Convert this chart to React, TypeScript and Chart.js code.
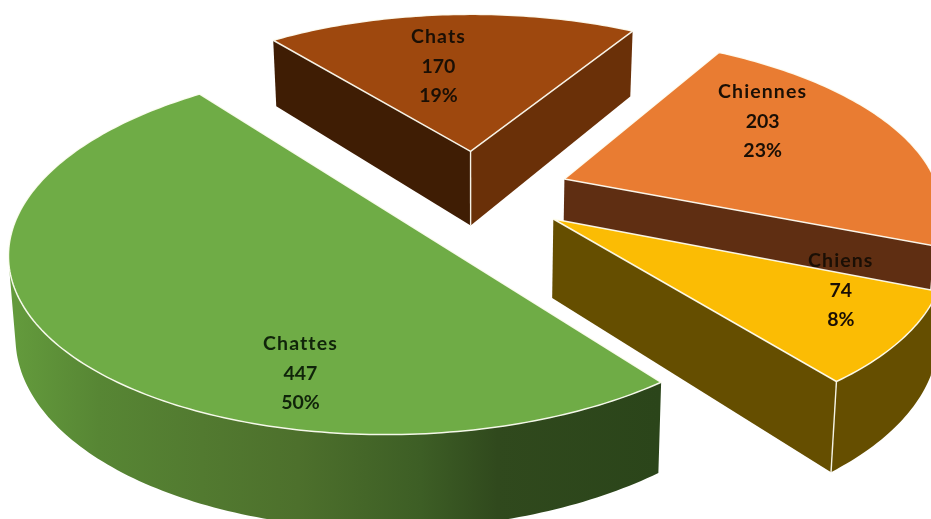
import React, { useEffect, useRef } from "react";
import { Chart, registerables, ArcElement } from "chart.js";

// ---- data
const categories = ["Chats", "Chiennes", "Chiens", "Chattes"];
const counts = [170, 203, 74, 447];
const percents = ["19%", "23%", "8%", "50%"];

// ---- colours
const topColors = ["#9E480E", "#E97C32", "#FBBC04", "#6FAC46"];
// colours of the two cut faces: [face at slice start, face at slice end]
const faceColors = [
  ["#3F1D04", "#6A3008"],
  ["#5F2E12", "#5F2E12"],
  ["#654E00", "#654E00"],
  ["#2B451A", "#2B451A"],
];
const wallGradients = [
  [["0", "#6A3008"], ["1", "#6A3008"]],
  [["0", "#5F2E12"], ["1", "#5F2E12"]],
  [["0", "#654E00"], ["1", "#654E00"]],
  [["0", "#639A3C"], ["0.13", "#578634"], ["0.29", "#527A30"], ["0.44", "#4D702C"], ["0.63", "#3D5E25"], ["0.75", "#30491D"], ["1", "#2B451A"]],
];

// ---- 3D view
const RADIUS = 375;
const EXPLODE = 94; // px in the pie's plane
const PERSPECTIVE = 0.16;
const TILT = 0.456;
const DEPTH = 77;
const BOTTOM_SCALE = 0.985;
const EDGE = "rgba(255,255,245,0.92)";

// label placement: [radius fraction, angle from slice middle in degrees]
const labelPolar = [
  [0.593, -5.8],
  [0.685, -13.5],
  [0.785, -8.6],
  [0.778, -36.8],
];
const LINE_GAP = 29.5;
const FONT = 'bold 19.5px Lato, "Open Sans", sans-serif';

type P = { x: number; y: number };

function project(cx: number, cy: number, r: number, u: number, v: number, low = false): P {
  const nu = u / r;
  const nv = v / r;
  const w = 1 - PERSPECTIVE * nv;
  const s = low ? BOTTOM_SCALE : 1;
  return {
    x: cx + (s * r * nu) / w,
    y: cy + (r * TILT * nv) / w + (low ? DEPTH / w : 0),
  };
}

function quadArea(q: P[]) {
  let sum = 0;
  for (let i = 0; i < q.length; i++) {
    const a = q[i];
    const b = q[(i + 1) % q.length];
    sum += a.x * b.y - b.x * a.y;
  }
  return sum;
}

function fillPoly(ctx: CanvasRenderingContext2D, pts: P[], fill: any) {
  ctx.beginPath();
  pts.forEach((p, k) => (k ? ctx.lineTo(p.x, p.y) : ctx.moveTo(p.x, p.y)));
  ctx.closePath();
  ctx.fillStyle = fill;
  ctx.fill();
}

class Arc3D extends ArcElement {
  static id = "arc3d";
  draw(ctx: CanvasRenderingContext2D) {
    const el = this as any;
    const { x: cx, y: cy, startAngle, endAngle, outerRadius: r } = el;
    const index = el.$context ? el.$context.dataIndex : 0;
    const mid = (startAngle + endAngle) / 2;
    const ou = Math.cos(mid) * EXPLODE;
    const ov = Math.sin(mid) * EXPLODE;
    const plane: [number, number][] = [[ou, ov]];
    const steps = Math.max(2, Math.ceil(((endAngle - startAngle) * 180) / Math.PI));
    for (let i = 0; i <= steps; i++) {
      const a = startAngle + ((endAngle - startAngle) * i) / steps;
      plane.push([ou + Math.cos(a) * r, ov + Math.sin(a) * r]);
    }
    const top = plane.map(([u, v]) => project(cx, cy, r, u, v));
    const low = plane.map(([u, v]) => project(cx, cy, r, u, v, true));
    const n = plane.length;

    const xs = low.map((p) => p.x);
    const grad = ctx.createLinearGradient(Math.min(...xs), 0, Math.max(...xs), 0);
    wallGradients[index].forEach(([stop, col]) => grad.addColorStop(Number(stop), col));

    const visible: boolean[] = [];
    for (let i = 0; i < n; i++) {
      const j = (i + 1) % n;
      visible.push(quadArea([top[i], top[j], low[j], low[i]]) < 0);
    }

    // cut faces
    if (visible[0]) fillPoly(ctx, [top[0], top[1], low[1], low[0]], faceColors[index][0]);
    if (visible[n - 1]) fillPoly(ctx, [top[n - 1], top[0], low[0], low[n - 1]], faceColors[index][1]);

    // outer wall: one polygon over its visible run
    const run: number[] = [];
    for (let i = 1; i < n - 1; i++) {
      if (visible[i]) {
        if (!run.length) run.push(i);
        run.push(i + 1);
      }
    }
    if (run.length) {
      const upper = run.map((i) => top[i]);
      const lower = run.map((i) => low[i]).reverse();
      fillPoly(ctx, [...upper, ...lower], grad);
    }

    // vertical lines at corners between two visible walls
    ctx.strokeStyle = EDGE;
    ctx.lineWidth = 1.4;
    for (const i of [0, 1, n - 1]) {
      const prev = (i - 1 + n) % n;
      if (visible[i] && visible[prev]) {
        ctx.beginPath();
        ctx.moveTo(top[i].x, top[i].y);
        ctx.lineTo(low[i].x, low[i].y);
        ctx.stroke();
      }
    }

    // top face
    ctx.beginPath();
    top.forEach((p, k) => (k ? ctx.lineTo(p.x, p.y) : ctx.moveTo(p.x, p.y)));
    ctx.closePath();
    ctx.fillStyle = el.options.backgroundColor;
    ctx.fill();
    ctx.strokeStyle = EDGE;
    ctx.lineWidth = 1.5;
    ctx.lineJoin = "round";
    ctx.stroke();
  }
}

const labelPlugin = {
  id: "pieLabels",
  afterDatasetsDraw(chart: any) {
    const ctx: any = chart.ctx;
    const arcs = chart.getDatasetMeta(0).data;
    ctx.save();
    ctx.font = FONT;
    ctx.textAlign = "center";
    ctx.textBaseline = "middle";
    arcs.forEach((arc: any, i: number) => {
      const mid = (arc.startAngle + arc.endAngle) / 2;
      const [frac, deg] = labelPolar[i];
      const a = mid + (deg * Math.PI) / 180;
      const u = Math.cos(mid) * EXPLODE + Math.cos(a) * frac * arc.outerRadius;
      const v = Math.sin(mid) * EXPLODE + Math.sin(a) * frac * arc.outerRadius;
      const p = project(arc.x, arc.y, arc.outerRadius, u, v);
      ctx.fillStyle = i === 3 ? "#10240A" : "#1A0F05";
      ctx.letterSpacing = "1.1px";
      ctx.fillText(categories[i], p.x, p.y - LINE_GAP);
      ctx.letterSpacing = "0px";
      ctx.fillText(String(counts[i]), p.x, p.y);
      ctx.fillText(percents[i], p.x, p.y + LINE_GAP);
    });
    ctx.restore();
  },
};

Chart.register(...registerables, Arc3D);
(Chart.defaults.datasets as any).pie.dataElementType = "arc3d";

export default function App() {
  const ref = useRef<HTMLCanvasElement>(null);
  useEffect(() => {
    const chart = new Chart(ref.current as HTMLCanvasElement, {
      type: "pie",
      data: {
        labels: categories,
        datasets: [
          {
            data: counts,
            backgroundColor: topColors,
            borderWidth: 0,
            clip: false,
          } as any,
        ],
      },
      options: {
        responsive: false,
        animation: false,
        events: [],
        rotation: -38,
        radius: RADIUS,
        layout: { padding: { left: 22, bottom: 134 } },
        plugins: { legend: { display: false }, tooltip: { enabled: false }, title: { display: false } },
      } as any,
      plugins: [labelPlugin],
    });
    return () => chart.destroy();
  }, []);
  return (
    <div style={{ position: "fixed", left: 0, top: 0, width: 931, height: 519, background: "#fff", overflow: "hidden" }}>
      <canvas ref={ref} width={931} height={519} style={{ display: "block", width: 931, height: 519, filter: "blur(0.4px)" }} />
    </div>
  );
}
